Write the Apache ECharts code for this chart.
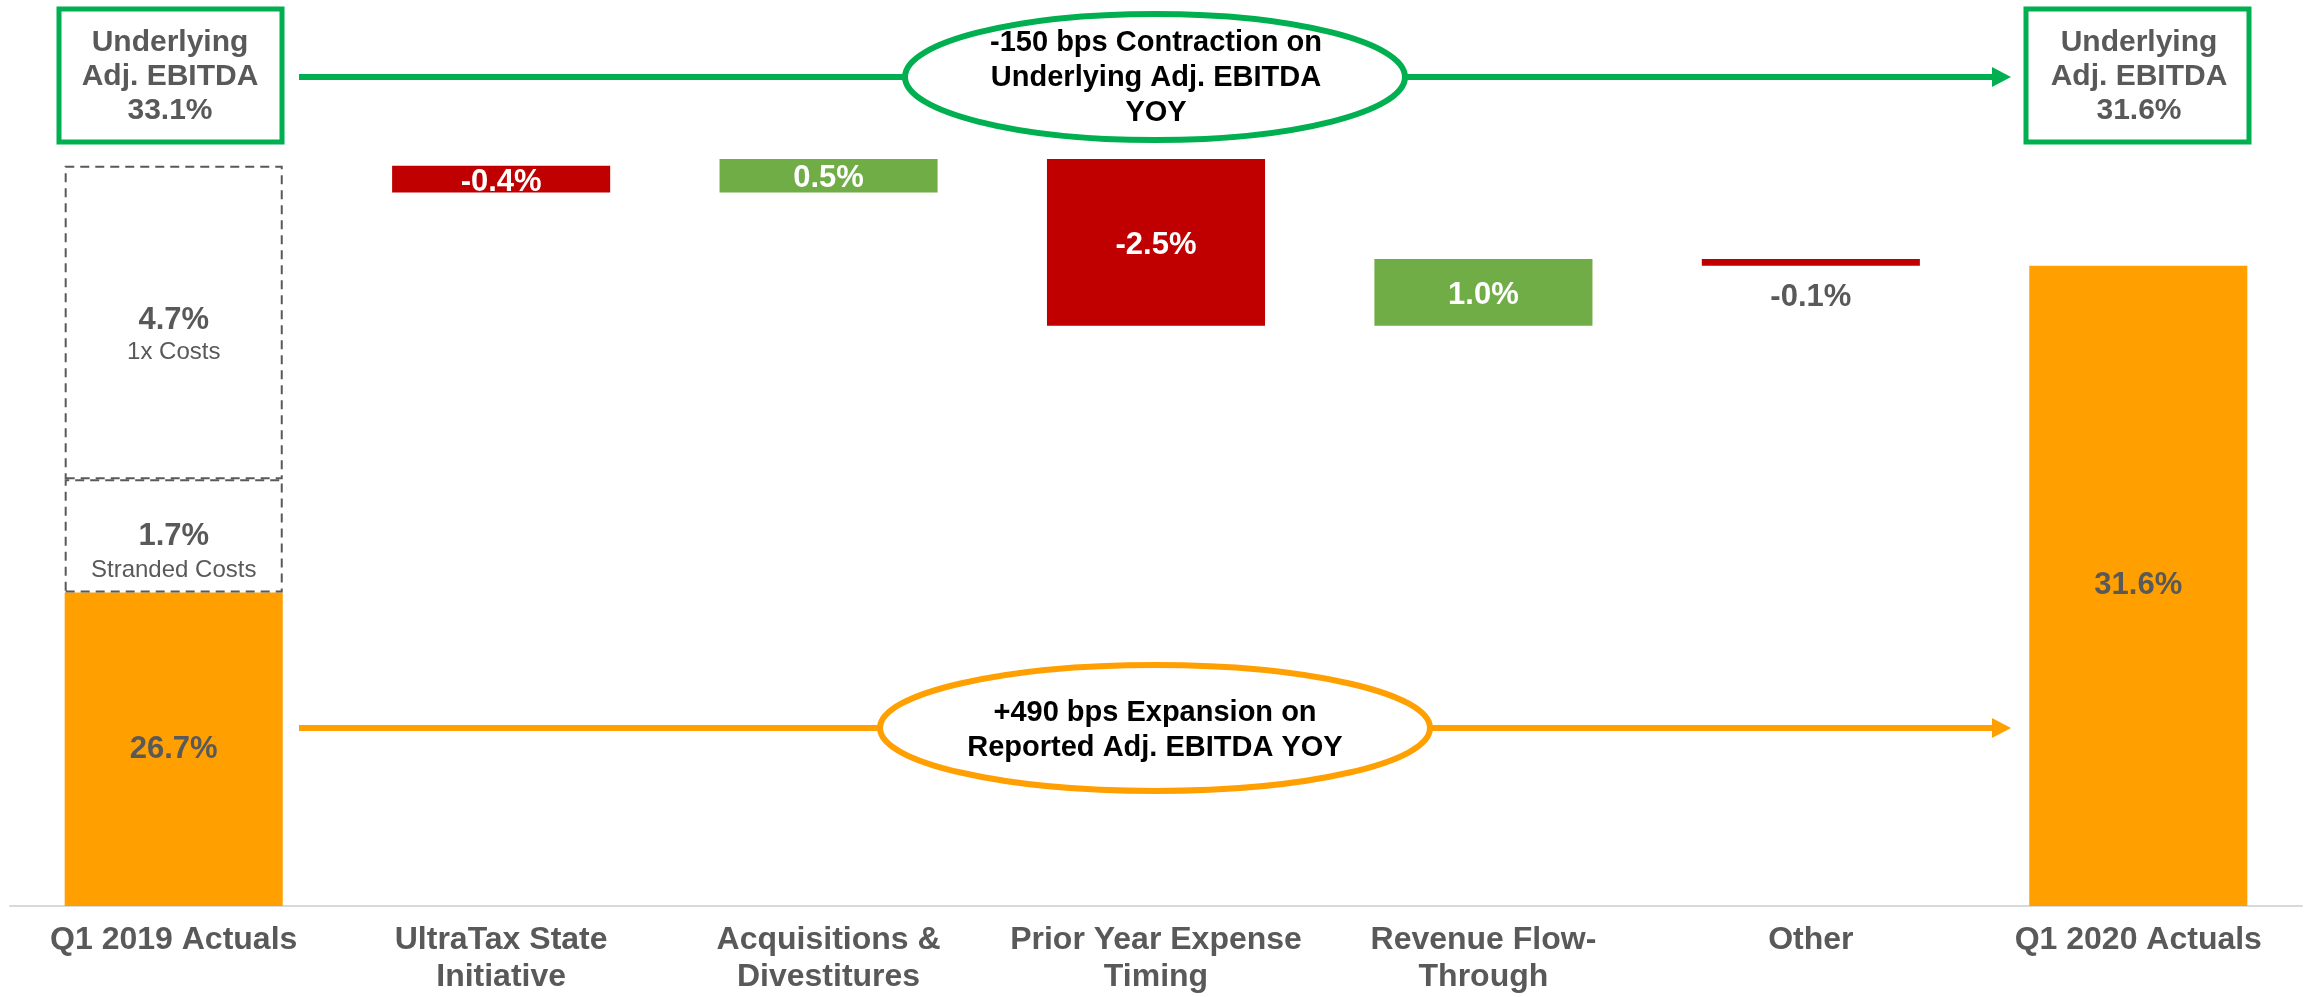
<!DOCTYPE html>
<html>
<head>
<meta charset="utf-8">
<script src="https://cdn.jsdelivr.net/npm/echarts@6/dist/echarts.min.js"></script>
<style>
  html, body { margin: 0; padding: 0; background: #ffffff; }
  #main { width: 2308px; height: 997px; }
</style>
</head>
<body>
<div id="main"></div>
<script>
// 类目
var categories = ['Q1 2019 Actuals', 'UltraTax State\nInitiative', 'Acquisitions &\nDivestitures',
  'Prior Year Expense\nTiming', 'Revenue Flow-\nThrough', 'Other', 'Q1 2020 Actuals'];
// reported adj. EBITDA margin (%)
var reported = [26.7, '-', '-', '-', '-', '-', 31.6];
// Q1 2019 dashed pieces
var stranded = [1.7, '-', '-', '-', '-', '-', '-'];
var oneTime = [4.7, '-', '-', '-', '-', '-', '-'];
// bridge steps
var changes = [null, -0.4, 0.5, -2.5, 1.0, -0.1, null];
// underlying adj. EBITDA start / end
var underlying = [33.1, 31.6];

var FONT = "'Liberation Sans', Arial, sans-serif";
var GRAY = '#595959';
var RED = '#C00000';
var GREEN = '#70AD47';
var ORANGE = '#FFA000';
var LINE_GREEN = '#00B050';

// 计算瀑布图底座
var helper = [];
var delta = [];
var running = reported[0] + stranded[0] + oneTime[0];
changes.forEach(function (c) {
  if (c === null) {
    helper.push('-');
    delta.push('-');
    return;
  }
  helper.push(c < 0 ? running + c : running);
  var small = Math.abs(c) < 0.2;
  delta.push({
    value: Math.abs(c),
    itemStyle: { color: c < 0 ? RED : GREEN },
    label: {
      position: small ? 'bottom' : 'inside',
      distance: 13,
      color: small ? GRAY : '#ffffff'
    }
  });
  running += c;
});

var chart = echarts.init(document.getElementById('main'));

var option = {
  backgroundColor: '#ffffff',
  animation: false,
  grid: { left: 10, right: 6, top: 39, bottom: 91 },
  xAxis: {
    type: 'category',
    data: categories,
    axisLine: { lineStyle: { color: '#D9D9D9', width: 2 } },
    axisTick: { show: false },
    axisLabel: {
      interval: 0,
      margin: 16,
      color: GRAY,
      fontFamily: FONT,
      fontWeight: 'bold',
      fontSize: 32,
      lineHeight: 37
    }
  },
  yAxis: {
    type: 'value',
    min: 22,
    max: 35,
    startValue: 22,
    show: false,
    splitLine: { show: false }
  },
  series: [
    {
      name: 'helper',
      type: 'bar',
      stack: 'bridge',
      barWidth: '66.6%',
      itemStyle: { color: 'transparent' },
      emphasis: { disabled: true },
      data: helper
    },
    {
      name: 'Reported',
      type: 'bar',
      stack: 'bridge',
      itemStyle: { color: ORANGE },
      label: {
        show: true,
        position: 'inside',
        color: GRAY,
        fontFamily: FONT,
        fontWeight: 'bold',
        fontSize: 31,
        formatter: function (p) { return p.value.toFixed(1) + '%'; }
      },
      data: reported
    },
    {
      name: 'Change',
      type: 'bar',
      stack: 'bridge',
      label: {
        show: true,
        fontFamily: FONT,
        fontWeight: 'bold',
        fontSize: 31,
        offset: [0, 3],
        formatter: function (p) { return changes[p.dataIndex].toFixed(1) + '%'; }
      },
      data: delta
    },
    {
      name: 'Stranded Costs',
      type: 'bar',
      stack: 'bridge',
      itemStyle: { color: 'transparent', borderColor: GRAY, borderWidth: 2, borderType: [9, 6] },
      label: {
        show: true,
        position: 'inside',
        offset: [0, 18],
        formatter: function (p) { return '{v|' + p.value.toFixed(1) + '%}\n{t|Stranded Costs}'; },
        rich: {
          v: { fontFamily: FONT, fontWeight: 'bold', fontSize: 31, color: GRAY, lineHeight: 34 },
          t: { fontFamily: FONT, fontSize: 24, color: GRAY, lineHeight: 34 }
        }
      },
      data: stranded
    },
    {
      name: '1x Costs',
      type: 'bar',
      stack: 'bridge',
      itemStyle: { color: 'transparent', borderColor: GRAY, borderWidth: 2, borderType: [9, 6] },
      label: {
        show: true,
        position: 'inside',
        offset: [0, 14],
        formatter: function (p) { return '{v|' + p.value.toFixed(1) + '%}\n{t|1x Costs}'; },
        rich: {
          v: { fontFamily: FONT, fontWeight: 'bold', fontSize: 31, color: GRAY, lineHeight: 32 },
          t: { fontFamily: FONT, fontSize: 24, color: GRAY, lineHeight: 32 }
        }
      },
      data: oneTime
    }
  ],
  graphic: [
    // 绿色箭头
    { type: 'line', shape: { x1: 299, y1: 77, x2: 1995, y2: 77 }, style: { stroke: LINE_GREEN, lineWidth: 6 } },
    { type: 'polygon', shape: { points: [[1992, 67], [2011, 77], [1992, 87]] }, style: { fill: LINE_GREEN } },
    { type: 'rect', shape: { x: 59, y: 9, width: 223, height: 133 }, style: { fill: '#ffffff', stroke: LINE_GREEN, lineWidth: 5 } },
    { type: 'rect', shape: { x: 2026, y: 9, width: 223, height: 133 }, style: { fill: '#ffffff', stroke: LINE_GREEN, lineWidth: 5 } },
    {
      type: 'text',
      style: {
        text: 'Underlying\nAdj. EBITDA\n' + underlying[0].toFixed(1) + '%',
        x: 170, y: 77, align: 'center', verticalAlign: 'middle', textAlign: 'center', textVerticalAlign: 'middle',
        font: 'bold 30px ' + FONT, fill: GRAY, lineHeight: 34
      }
    },
    {
      type: 'text',
      style: {
        text: 'Underlying\nAdj. EBITDA\n' + underlying[1].toFixed(1) + '%',
        x: 2139, y: 77, align: 'center', verticalAlign: 'middle', textAlign: 'center', textVerticalAlign: 'middle',
        font: 'bold 30px ' + FONT, fill: GRAY, lineHeight: 34
      }
    },
    { type: 'ellipse', shape: { cx: 1155, cy: 77, rx: 250, ry: 63 }, style: { fill: '#ffffff', stroke: LINE_GREEN, lineWidth: 6 } },
    {
      type: 'text',
      style: {
        text: '-150 bps Contraction on\nUnderlying Adj. EBITDA\nYOY',
        x: 1156, y: 78, align: 'center', verticalAlign: 'middle', textAlign: 'center', textVerticalAlign: 'middle',
        font: 'bold 29px ' + FONT, fill: '#000000', lineHeight: 35
      }
    },
    // 橙色箭头
    { type: 'line', shape: { x1: 299, y1: 728, x2: 1995, y2: 728 }, style: { stroke: ORANGE, lineWidth: 6 } },
    { type: 'polygon', shape: { points: [[1992, 718], [2011, 728], [1992, 738]] }, style: { fill: ORANGE } },
    { type: 'ellipse', shape: { cx: 1155, cy: 728, rx: 275, ry: 63 }, style: { fill: '#ffffff', stroke: ORANGE, lineWidth: 6 } },
    {
      type: 'text',
      style: {
        text: '+490 bps Expansion on\nReported Adj. EBITDA YOY',
        x: 1155, y: 730, align: 'center', verticalAlign: 'middle', textAlign: 'center', textVerticalAlign: 'middle',
        font: 'bold 29px ' + FONT, fill: '#000000', lineHeight: 35
      }
    }
  ]
};

chart.setOption(option);
</script>
</body>
</html>
